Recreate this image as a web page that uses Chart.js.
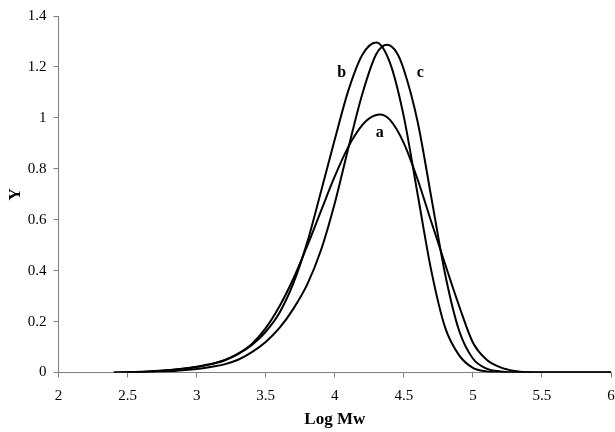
<!DOCTYPE html>
<html>
<head>
<meta charset="utf-8">
<script src="https://cdn.jsdelivr.net/npm/chart.js@4/dist/chart.umd.min.js"></script>
<style>
html,body{margin:0;padding:0;background:#fff;}
#wrap{width:615px;height:432px;position:relative;}
</style>
</head>
<body>
<div id="wrap"><canvas id="c" width="615" height="432"></canvas></div>
<script>
// Data
const xTicks = [2, 2.5, 3, 3.5, 4, 4.5, 5, 5.5, 6];
const yTicks = [0, 0.2, 0.4, 0.6, 0.8, 1, 1.2, 1.4];

const xA = [2.4, 2.5, 2.6, 2.7, 2.8, 2.9, 3.0, 3.1, 3.2, 3.3, 3.4, 3.5, 3.6, 3.7, 3.8, 3.9, 4.0, 4.1, 4.2, 4.25, 4.326, 4.4, 4.5, 4.6, 4.7, 4.8, 4.9, 5.0, 5.1, 5.2, 5.3, 5.4, 5.5, 6.0];
const yA = [0, 0.001, 0.002, 0.005, 0.009, 0.015, 0.023, 0.033, 0.048, 0.074, 0.112, 0.174, 0.26, 0.368, 0.496, 0.634, 0.77, 0.888, 0.972, 0.998, 1.013, 0.992, 0.901, 0.758, 0.59, 0.424, 0.262, 0.118, 0.05, 0.02, 0.006, 0.001, 0, 0];

const xB = [2.4, 2.5, 2.6, 2.7, 2.8, 2.9, 3.0, 3.1, 3.2, 3.3, 3.4, 3.5, 3.6, 3.7, 3.8, 3.9, 4.0, 4.1, 4.2, 4.3, 4.4, 4.5, 4.6, 4.7, 4.8, 4.9, 5.0, 5.1, 5.2, 6.0];
const yB = [0, 0.001, 0.003, 0.006, 0.01, 0.015, 0.022, 0.032, 0.047, 0.072, 0.108, 0.16, 0.235, 0.35, 0.51, 0.71, 0.915, 1.11, 1.248, 1.296, 1.216, 1.005, 0.70, 0.397, 0.175, 0.068, 0.018, 0.004, 0, 0];

const xC = [2.5, 2.6, 2.7, 2.8, 2.9, 3.0, 3.1, 3.2, 3.3, 3.4, 3.5, 3.6, 3.7, 3.8, 3.9, 4.0, 4.1, 4.2, 4.3, 4.38, 4.45, 4.5, 4.6, 4.7, 4.8, 4.9, 5.0, 5.1, 5.2, 5.3, 6.0];
const yC = [0, 0.001, 0.003, 0.005, 0.009, 0.014, 0.022, 0.032, 0.05, 0.08, 0.12, 0.175, 0.25, 0.345, 0.48, 0.665, 0.885, 1.095, 1.25, 1.287, 1.255, 1.19, 0.985, 0.685, 0.384, 0.165, 0.055, 0.015, 0.004, 0, 0];

const curveLabels = [
  {text: 'a', x: 4.325, y: 0.94},
  {text: 'b', x: 4.05, y: 1.176},
  {text: 'c', x: 4.62, y: 1.176}
];

function pts(xs, ys){ return xs.map((x,i)=>({x:x, y:ys[i]})); }

const serif = '"Liberation Serif", "DejaVu Serif", serif';

const labelPlugin = {
  id: 'curveLabels',
  afterDatasetsDraw(chart){
    const ctx = chart.ctx;
    const xs = chart.scales.x, ys = chart.scales.y;
    ctx.save();
    ctx.fillStyle = '#000';
    ctx.font = 'bold 16px ' + serif;
    ctx.textAlign = 'center';
    ctx.textBaseline = 'middle';
    curveLabels.forEach(l => {
      ctx.fillText(l.text, xs.getPixelForValue(l.x), ys.getPixelForValue(l.y));
    });
    ctx.restore();
  }
};

const ds = (label, data) => ({
  label: label,
  data: data,
  borderColor: '#000',
  borderWidth: 2,
  pointRadius: 0,
  fill: false,
  cubicInterpolationMode: 'monotone'
});

new Chart(document.getElementById('c'), {
  type: 'line',
  data: {
    datasets: [
      ds('a', pts(xA, yA)),
      ds('b', pts(xB, yB)),
      ds('c', pts(xC, yC))
    ]
  },
  options: {
    responsive: false,
    animation: false,
    layout: { padding: { top: 9, right: 4, left: 0, bottom: 0 } },
    plugins: { legend: { display: false }, tooltip: { enabled: false } },
    scales: {
      x: {
        type: 'linear',
        min: 2, max: 6,
        afterBuildTicks: (axis) => { axis.ticks = xTicks.map(v => ({value: v})); },
        afterFit: (axis) => { axis.height = 59.5; axis.paddingRight = 0; axis.paddingLeft = 0; },
        ticks: {
          color: '#000',
          font: { family: serif, size: 15 },
          padding: 10,
          maxRotation: 0,
          callback: (v) => String(v)
        },
        grid: { display: true, drawOnChartArea: false, drawTicks: true, tickLength: 5, color: '#808080' },
        border: { display: true, color: '#808080', width: 1 },
        title: { display: true, text: 'Log Mw', color: '#000', font: { family: serif, size: 17, weight: 'bold' }, padding: { top: 4, bottom: 2 } }
      },
      y: {
        type: 'linear',
        min: 0, max: 1.4,
        afterBuildTicks: (axis) => { axis.ticks = yTicks.map(v => ({value: v})); },
        afterFit: (axis) => { axis.width = 58.5; },
        ticks: {
          color: '#000',
          font: { family: serif, size: 15 },
          padding: 7,
          callback: (v) => String(Math.round(v*10)/10)
        },
        grid: { display: true, drawOnChartArea: false, drawTicks: true, tickLength: 5, color: '#808080' },
        border: { display: true, color: '#808080', width: 1 },
        title: { display: true, text: 'Y', color: '#000', font: { family: serif, size: 17, weight: 'bold' }, padding: { top: 5, bottom: 4 } }
      }
    }
  },
  plugins: [labelPlugin]
});
</script>
</body>
</html>
